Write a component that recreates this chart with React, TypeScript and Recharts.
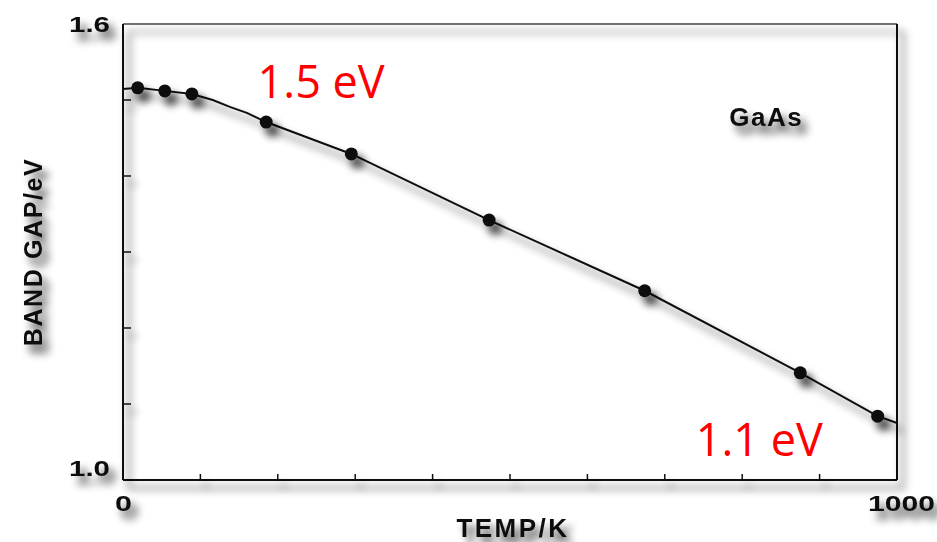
import {
  ComposedChart,
  Line,
  Scatter,
  XAxis,
  YAxis,
  ReferenceLine,
  ReferenceDot,
} from "recharts";

// fitted curve through the measurements (K, eV)
const curveTemp = [0, 19, 54, 89, 116, 138, 160, 185, 295, 473, 674, 875, 975, 1000];
const curveGap = [1.5145, 1.516, 1.512, 1.508, 1.5, 1.491, 1.483, 1.471, 1.429, 1.342, 1.249, 1.141, 1.084, 1.075];

// measured band gap points
const pointTemp = [19, 54, 89, 185, 295, 473, 674, 875, 975];
const pointGap = [1.516, 1.512, 1.508, 1.471, 1.429, 1.342, 1.249, 1.141, 1.084];

const xTicks = [0, 100, 200, 300, 400, 500, 600, 700, 800, 900, 1000];
const xTickLabels = ["0", "", "", "", "", "", "", "", "", "", "1000"];
const yTicks = [1.0, 1.1, 1.2, 1.3, 1.4, 1.5, 1.6];
const yTickLabels = ["1.0", "", "", "", "", "", "1.6"];

const curveRows = curveTemp.map((t, i) => ({ t, gap: curveGap[i] }));
const pointRows = pointTemp.map((t, i) => ({ t, gap: pointGap[i] }));

const INK = "#111";
const SANS = "'Liberation Sans', Arial, sans-serif";
const shadow = { filter: "url(#printShadow)" };

// the figure's lettering is a wide bold face: stretch each label to its width
const DIGIT_W = 14;
const DOT_W = 8;
const labelWidth = (s: string) =>
  s.split("").reduce((w, c) => w + (c === "." ? DOT_W : DIGIT_W), 0);

function XTick(props: any) {
  const { x, y, payload } = props;
  const i = xTicks.indexOf(payload.value);
  const text = xTickLabels[i];
  return (
    <g style={shadow}>
      {i > 0 && i < xTicks.length - 1 && (
        <line x1={x} x2={x} y1={y} y2={y - 6} stroke={INK} strokeWidth={1.5} />
      )}
      {text && (
        <text
          x={x - labelWidth(text) / 2 - 1}
          y={y + 31}
          textLength={labelWidth(text) + (text.length > 1 ? 11 : 3)}
          lengthAdjust="spacingAndGlyphs"
          fontFamily={SANS}
          fontWeight={700}
          fontSize={22}
          fill={INK}
        >
          {text}
        </text>
      )}
    </g>
  );
}

function YTick(props: any) {
  const { x, y, payload } = props;
  const i = yTicks.findIndex((v) => Math.abs(v - payload.value) < 1e-6);
  const text = yTickLabels[i];
  const dy = i === 0 ? -4 : 8;
  return (
    <g style={shadow}>
      {i > 0 && i < yTicks.length - 1 && (
        <line x1={x} x2={x + 8} y1={y} y2={y} stroke={INK} strokeWidth={1.5} />
      )}
      {text && (
        <text
          x={x - 54}
          y={y + dy}
          textLength={41}
          lengthAdjust="spacingAndGlyphs"
          fontFamily={SANS}
          fontWeight={700}
          fontSize={22}
          fill={INK}
        >
          {text}
        </text>
      )}
    </g>
  );
}

function RedNote(text: string) {
  return (props: any) => {
    const { viewBox } = props;
    const cx = viewBox.x + viewBox.width / 2;
    const cy = viewBox.y + viewBox.height / 2;
    return (
      <text x={cx} y={cy} textAnchor="middle" dominantBaseline="central" fontFamily="'Open Sans', 'Noto Sans', sans-serif" fontSize={45} fill="#ff0000">
        {text}
      </text>
    );
  };
}

function SampleName(props: any) {
  const { viewBox } = props;
  return (
    <text x={viewBox.x + 1} y={viewBox.y + 1} textAnchor="middle" dominantBaseline="central" fontFamily={SANS} fontWeight={700} fontSize={26} letterSpacing={1.5} fill={INK} style={shadow}>
      GaAs
    </text>
  );
}

export default function App() {
  return (
    <div style={{ position: "relative", width: 937, height: 542, background: "#fff" }}>
      <style>{`
        body { margin: 0; }
        .recharts-cartesian-axis-line, .recharts-line, .recharts-scatter, .recharts-reference-line, .axis-title {
          filter: url(#printShadow);
        }
      `}</style>
      <svg width={1} height={1} style={{ position: "absolute", left: 0, top: 0 }}>
        <defs>
          <filter id="printShadow" filterUnits="userSpaceOnUse" x={-200} y={-200} width={1400} height={1000}>
            <feGaussianBlur in="SourceAlpha" stdDeviation={4} />
            <feOffset dx={6} dy={8} result="blur" />
            <feComponentTransfer>
              <feFuncA type="linear" slope={0.75} />
            </feComponentTransfer>
            <feMerge>
              <feMergeNode />
              <feMergeNode in="SourceGraphic" />
            </feMerge>
          </filter>
        </defs>
      </svg>
      <ComposedChart
        width={937}
        height={542}
        data={curveRows}
        margin={{ top: 24, right: 40, left: 0, bottom: 0 }}
      >
        <XAxis
          type="number"
          dataKey="t"
          domain={[0, 1000]}
          ticks={xTicks}
          interval={0}
          height={62}
          tickSize={0}
          tickMargin={0}
          tickLine={false}
          tick={<XTick />}
          axisLine={{ stroke: INK, strokeWidth: 2 }}
          label={{
            content: (p: any) => (
              <text className="axis-title" x={p.viewBox.x + p.viewBox.width / 2 + 3} y={p.viewBox.y + 57} textAnchor="middle" fontFamily={SANS} fontWeight={700} fontSize={26} letterSpacing={2.5} fill={INK}>
                TEMP/K
              </text>
            ),
          }}
        />
        <YAxis
          type="number"
          dataKey="gap"
          domain={[1.0, 1.6]}
          ticks={yTicks}
          interval={0}
          width={123}
          tickSize={0}
          tickMargin={0}
          tickLine={false}
          tick={<YTick />}
          axisLine={{ stroke: INK, strokeWidth: 2 }}
          label={{
            content: (p: any) => {
              const cy = p.viewBox.y + p.viewBox.height / 2;
              return (
                <g className="axis-title">
                  <text x={33} y={cy} transform={`rotate(-90 33 ${cy})`} textAnchor="middle" dominantBaseline="central" fontFamily={SANS} fontWeight={700} fontSize={25} letterSpacing={1.6} fill={INK}>
                    BAND GAP/eV
                  </text>
                </g>
              );
            },
          }}
        />
        <ReferenceLine y={1.6} stroke="#444" strokeWidth={1.5} />
        <ReferenceLine x={1000} stroke={INK} strokeWidth={2} />
        <Line
          dataKey="gap"
          type="linear"
          stroke={INK}
          strokeWidth={2}
          dot={false}
          activeDot={false}
          isAnimationActive={false}
        />
        <Scatter
          data={pointRows}
          dataKey="gap"
          fill={INK}
          shape={(p: any) => <circle cx={p.cx} cy={p.cy} r={6.5} fill={INK} />}
          isAnimationActive={false}
        />
        <ReferenceDot x={831} y={1.478} r={1} fillOpacity={0} stroke="none" label={<SampleName />} />
        <ReferenceDot x={256} y={1.526} r={1} fillOpacity={0} stroke="none" label={RedNote("1.5 eV")} />
        <ReferenceDot x={822} y={1.055} r={1} fillOpacity={0} stroke="none" label={RedNote("1.1 eV")} />
      </ComposedChart>
    </div>
  );
}
